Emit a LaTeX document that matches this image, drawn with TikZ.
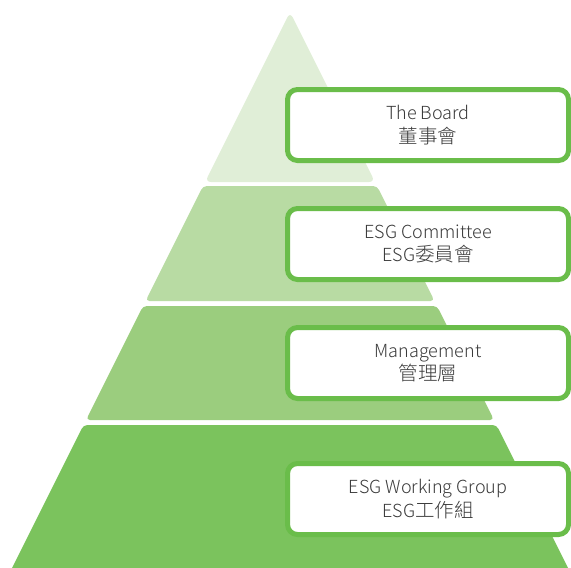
\documentclass[tikz,border=0pt]{standalone}
\usepackage{fontspec}
\setmainfont{Noto Sans CJK TC Light}
\usetikzlibrary{positioning}
\definecolor{tierOne}{HTML}{E0EED7}
\definecolor{tierTwo}{HTML}{B8DBA3}
\definecolor{tierThree}{HTML}{9BCD7E}
\definecolor{tierFour}{HTML}{7BC35D}
\definecolor{boxGreen}{HTML}{6ABD4A}
\definecolor{textGray}{HTML}{3A3A3A}
\newcommand{\zh}[1]{{\fontsize{19.5}{23.5}\selectfont #1}}

\begin{document}
\begin{tikzpicture}[
  x=1pt, y=-1pt,
  tier/.style={fill=#1, rounded corners=4pt},
  box/.style={
    rectangle,
    rounded corners=10pt,
    draw=boxGreen,
    fill=white,
    line width=5pt,
    minimum width=281pt,
    minimum height=71pt,
    align=center,
    font=\fontsize{18}{23.5}\selectfont,
    text=textGray
  }
]
  \useasboundingbox (0,0) rectangle (571,568);
  \clip (0,0) rectangle (571,568);

  % Pyramid tiers
  \fill[tier=tierOne, rounded corners=6pt] (290,12) -- (375,182) -- (205,182) -- cycle;
  \foreach \ya/\yb/\col in {186/301/tierTwo, 306/420/tierThree, 425/600/tierFour}
    \fill[tier=\col] ({290-(\ya-12)/2},\ya) -- ({290+(\ya-12)/2},\ya)
      -- ({290+(\yb-12)/2},\yb) -- ({290-(\yb-12)/2},\yb) -- cycle;

  % Labels
  \node[box] (board) at (428,125) {The Board\\\zh{董事會}};
  \node[box] (committee) at (428,244) {ESG Committee\\ESG\zh{委員會}};
  \node[box] (management) at (428,363) {Management\\\zh{管理層}};
  \node[box] (workgroup) at (428,499) {ESG Working Group\\ESG\zh{工作組}};
\end{tikzpicture}
\end{document}
